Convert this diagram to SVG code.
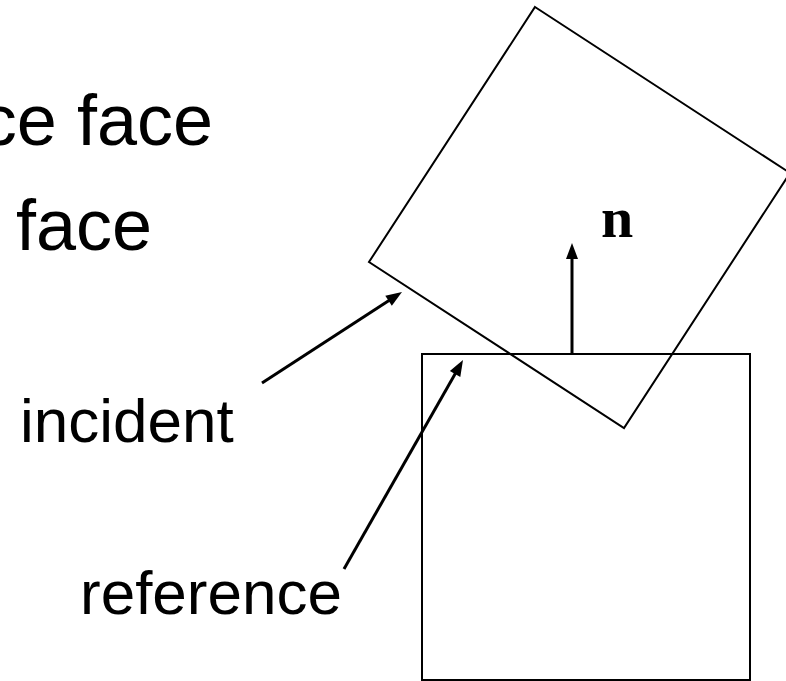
<svg xmlns="http://www.w3.org/2000/svg" width="786" height="681" viewBox="0 0 786 681">
<defs>
<style>
.lbl{font-family:"Liberation Sans",Arial,sans-serif;fill:#000}
.big{font-size:72px}
.mid{font-size:62px}
.vec{font-family:"Liberation Serif","Times New Roman",serif;font-weight:bold;font-size:58px;fill:#000}
.shape{fill:none;stroke:#000;stroke-width:2}
.arr{fill:none;stroke:#000;stroke-width:3}
</style>
<marker id="ah" markerUnits="userSpaceOnUse" markerWidth="16" markerHeight="12" refX="6" refY="6" orient="auto" overflow="visible">
<path d="M0,0 L16,6 L0,12 z" fill="#000"/>
</marker>
</defs>
<rect width="786" height="681" fill="#fff"/>
<g id="title">
<text class="lbl big" x="213" y="145" text-anchor="end">ce face</text>
<text class="lbl big" x="16" y="250">face</text>
</g>
<g id="incident-box">
<polygon class="shape" points="535,7 790,173 624,428 369,262"/>
</g>
<g id="reference-box">
<rect class="shape" x="422" y="354" width="328" height="326"/>
</g>
<g id="label-incident">
<text class="lbl mid" x="20" y="442">incident</text>
</g>
<g id="label-reference">
<text class="lbl mid" x="80" y="614">reference</text>
</g>
<g id="label-n">
<text class="vec" x="601" y="237">n</text>
</g>
<g id="connectors">
<line class="arr" x1="262" y1="383" x2="393.6" y2="297.4" marker-end="url(#ah)"/>
<line class="arr" x1="344" y1="569" x2="458.05" y2="368.7" marker-end="url(#ah)"/>
<line class="arr" x1="572" y1="354" x2="572" y2="253" marker-end="url(#ah)"/>
</g>
</svg>
